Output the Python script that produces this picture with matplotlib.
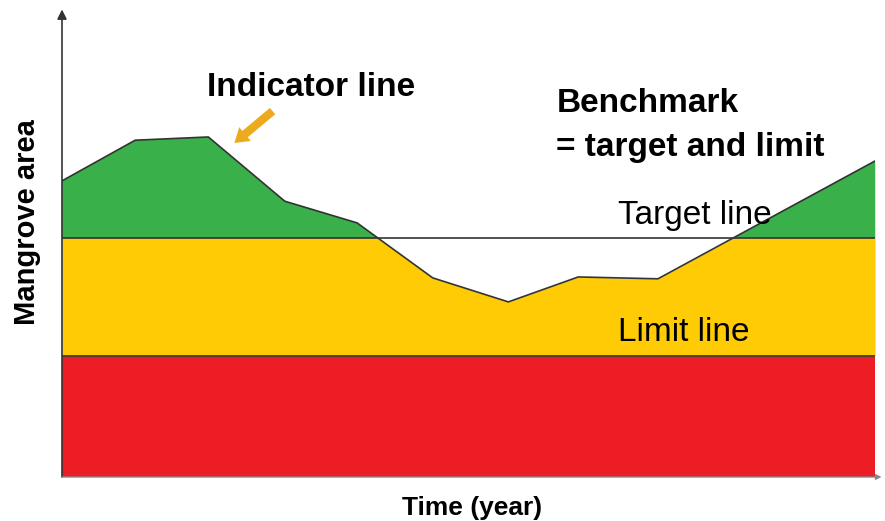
import matplotlib.pyplot as plt
import numpy as np

# indicator line (time in arbitrary units, area in arbitrary units)
years = np.array([0, 9.0, 18.0, 27.4, 36.3, 45.6, 54.9, 63.5, 73.3, 100])
area = np.array([64.1, 72.9, 73.6, 59.7, 55.0, 43.1, 37.9, 43.3, 42.9, 68.4])
target = 51.7
limit = 26.2

green = "#39b04a"
yellow = "#fecb05"
red = "#ec1d25"
orange = "#eeaa1e"

plt.rcParams["font.family"] = ["Liberation Sans", "DejaVu Sans"]

fig = plt.figure(figsize=(8.85, 5.21), dpi=100)
ax = fig.add_axes([62 / 885, 44 / 521, 813 / 885, 462 / 521])

ax.fill_between([0, 100], 0, limit, color=red, lw=0)
ax.fill_between(years, limit, area, color=yellow, lw=0)
ax.fill_between(years, target, area, where=area > target, interpolate=True, color=green, lw=0)

ax.plot(years, area, color="#333333", lw=1.2)
ax.axhline(target, color="#333333", lw=1.2)
ax.axhline(limit, color="#333333", lw=1.2)

ax.set_xlim(0, 100)
ax.set_ylim(0, 100)
ax.set_xticks([])
ax.set_yticks([])
for s in ax.spines.values():
    s.set_visible(False)

# axis arrows
ax.annotate("", xy=(0, 1.012), xytext=(0, 0), xycoords="axes fraction",
            arrowprops=dict(arrowstyle="-|>", color="#333333", lw=1.2, mutation_scale=14,
                            shrinkA=0, shrinkB=0), annotation_clip=False)
ax.annotate("", xy=(1.008, 0), xytext=(0, 0), xycoords="axes fraction",
            arrowprops=dict(arrowstyle="-|>", color="#888888", lw=1.0, mutation_scale=8,
                            shrinkA=0, shrinkB=0), annotation_clip=False)

ax.set_xlabel("Time (year)", fontsize=19, fontweight="bold")
ax.xaxis.set_label_coords(0.504, -0.041)
ax.set_ylabel("Mangrove area", fontsize=21, fontweight="bold")
ax.yaxis.set_label_coords(-0.026, 0.552)

ax.text(17.8, 84.4, "Indicator line", fontsize=24, fontweight="bold", va="center", ha="left")
ax.annotate("", xy=(21.2, 72.3), xytext=(25.9, 79.2),
            arrowprops=dict(arrowstyle="simple,head_width=1.3,head_length=1.0,tail_width=0.6",
                            color=orange, lw=0, shrinkA=0, shrinkB=0))

ax.text(60.8, 80.9, "Benchmark", fontsize=24, fontweight="bold", va="center", ha="left")
ax.text(60.8, 71.4, "= target and limit", fontsize=24, fontweight="bold", va="center", ha="left")
ax.text(68.4, 56.7, "Target line", fontsize=24, va="center", ha="left")
ax.text(68.4, 31.2, "Limit line", fontsize=24, va="center", ha="left")

fig.savefig("out.png", dpi=100)
